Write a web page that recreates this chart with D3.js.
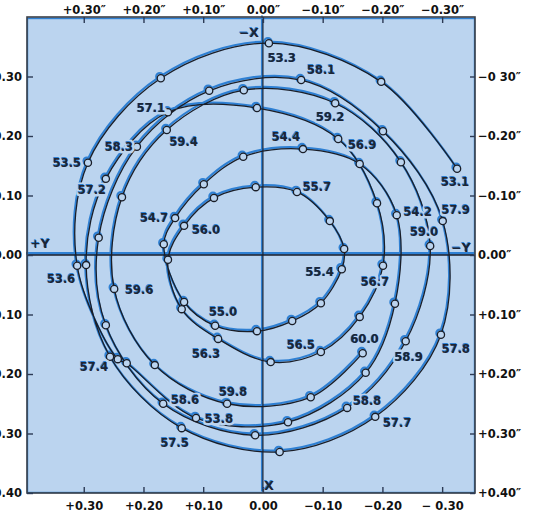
<!DOCTYPE html>
<html>
<head>
<meta charset="utf-8">
<script src="https://cdn.jsdelivr.net/npm/d3@7/dist/d3.min.js"></script>
<style>
  body { margin: 0; background: #fff; }
  svg { display: block; font-family: "DejaVu Sans", sans-serif; font-weight: bold; }
</style>
</head>
<body>
<svg id="chart" width="538" height="519"></svg>
<script>
// Path of the pole, 1953.1 - 1960.0 (seconds of arc).
// null epoch = unlabelled extra point seen on the 1953 arc.
const epochs = [
  53.1, 53.2, 53.3, 53.4, 53.5, 53.6, 53.7, null, 53.8, 53.9,
  54.0, 54.1, 54.2, 54.3, 54.4, 54.5, 54.6, 54.7, 54.8, 54.9,
  55.0, 55.1, 55.2, 55.3, 55.4, 55.5, 55.6, 55.7, 55.8, 55.9,
  56.0, 56.1, 56.2, 56.3, 56.4, 56.5, 56.6, 56.7, 56.8, 56.9,
  57.0, 57.1, 57.2, 57.3, 57.4, 57.5, 57.6, 57.7, 57.8, 57.9,
  58.0, 58.1, 58.2, 58.3, 58.4, 58.5, 58.6, 58.7, 58.8, 58.9,
  59.0, 59.1, 59.2, 59.3, 59.4, 59.5, 59.6, 59.7, 59.8, 59.9,
  60.0
];
// horizontal: pole Y (+Y to the left)
const poleY = [
  -0.325, -0.198, -0.010, 0.171, 0.293, 0.311, 0.243, 0.228, 0.112, -0.042,
  -0.172, -0.221, -0.224, -0.162, -0.067, 0.033, 0.099, 0.147, 0.166, 0.132,
  0.080, 0.010, -0.049, -0.097, -0.132, -0.136, -0.112, -0.057, 0.012, 0.082,
  0.132, 0.159, 0.136, 0.075, -0.013, -0.097, -0.162, -0.201, -0.191, -0.126,
  0.010, 0.159, 0.263, 0.296, 0.256, 0.136, -0.028, -0.188, -0.298, -0.301,
  -0.201, -0.064, 0.090, 0.211, 0.275, 0.263, 0.167, 0.013, -0.141, -0.239,
  -0.280, -0.231, -0.121, 0.032, 0.161, 0.236, 0.249, 0.181, 0.060, -0.080,
  -0.167
];
// vertical: pole X (-X at the top)
const poleX = [
  -0.145, -0.291, -0.356, -0.297, -0.155, 0.018, 0.175, 0.182, 0.274, 0.281,
  0.198, 0.082, -0.067, -0.153, -0.178, -0.165, -0.119, -0.062, -0.018, 0.079,
  0.119, 0.128, 0.111, 0.081, 0.024, -0.010, -0.057, -0.106, -0.114, -0.096,
  -0.049, 0.008, 0.091, 0.141, 0.180, 0.163, 0.104, 0.018, -0.087, -0.195,
  -0.247, -0.240, -0.128, 0.017, 0.171, 0.291, 0.331, 0.272, 0.134, -0.057,
  -0.208, -0.294, -0.276, -0.182, -0.029, 0.118, 0.250, 0.303, 0.257, 0.145,
  -0.015, -0.156, -0.255, -0.277, -0.210, -0.097, 0.057, 0.185, 0.250, 0.239,
  0.165
];
const labelled = [
  53.1, 53.3, 53.5, 53.6, 53.8, 54.2, 54.4, 54.7, 55.0, 55.4, 55.7, 56.0,
  56.3, 56.5, 56.7, 56.9, 57.1, 57.2, 57.4, 57.5, 57.7, 57.8, 57.9, 58.1,
  58.3, 58.6, 58.8, 58.9, 59.0, 59.2, 59.4, 59.6, 59.8, 60.0
];

const topTicks = [0.30, 0.20, 0.10, 0, -0.10, -0.20, -0.30];
const topTickLabels = ["+0.30″", "+0.20″", "+0.10″", "0.00″", "−0.10″", "−0.20″", "−0.30″"];
const bottomTickLabels = ["+0.30", "+0.20", "+0.10", "0.00", "−0.10", "−0.20", "− 0.30"];
const sideTicks = [-0.30, -0.20, -0.10, 0, 0.10, 0.20, 0.30, 0.40];
const rightTickLabels = ["−0 30″", "−0.20″", "−0.10″", "0.00″", "+0.10″", "+0.20″", "+0.30″", "+0.40″"];
const leftTickLabels = ["−0.30", "−0.20", "−0.10", "0.00", "+0.10", "+0.20", "+0.30", "+0.40"];

// where each epoch label sits relative to its circle (px)
const labelOffset = {
  "53.1": [-2, 13], "53.3": [13, 15], "53.5": [-21, 0], "53.6": [-16, 13],
  "53.8": [23, 1], "54.2": [21, -3], "54.4": [-17, -12], "54.7": [-21, 0],
  "55.0": [8, -14], "55.4": [-22, 3], "55.7": [20, -5], "56.0": [22, 4],
  "56.3": [-12, 15], "56.5": [-20, -7], "56.7": [-8, 16], "56.9": [24, 6],
  "57.1": [-17, -4], "57.2": [-14, 11], "57.4": [-16, 10], "57.5": [-7, 15],
  "57.7": [22, 6], "57.8": [15, 14], "57.9": [13, -11], "58.1": [20, -10],
  "58.3": [-18, 0], "58.6": [22, -4], "58.8": [20, -7], "58.9": [3, 16],
  "59.0": [-6, -14], "59.2": [-5, 14], "59.4": [17, 12], "59.6": [25, 1],
  "59.8": [6, -12], "60.0": [2, -14]
};

const frame = { left: 27, top: 17, right: 475, bottom: 493 };
const bg = "#bbd4ef";
const ink = "#1a1e28";
const cyan = "#2f80d3";

const xs = d3.scaleLinear().domain([0.395, -0.355]).range([frame.left, frame.right]);
const ys = d3.scaleLinear().domain([-0.40, 0.40]).range([frame.top, frame.bottom]);

const svg = d3.select("#chart");

svg.append("rect")
  .attr("x", frame.left).attr("y", frame.top)
  .attr("width", frame.right - frame.left).attr("height", frame.bottom - frame.top)
  .attr("fill", bg);

const pts = epochs.map((e, i) => ({ epoch: e, y: poleY[i], x: poleX[i] }));
const line = d3.line()
  .x((d) => xs(d.y))
  .y((d) => ys(d.x))
  .curve(d3.curveCatmullRom.alpha(0.5));

// printed look: a cyan plate slightly out of register under the black one
function drawLayer(g, color, width) {
  g.append("line")
    .attr("x1", frame.left).attr("x2", frame.right)
    .attr("y1", ys(0)).attr("y2", ys(0))
    .attr("stroke", color).attr("stroke-width", width + 0.4);
  g.append("line")
    .attr("x1", xs(0)).attr("x2", xs(0))
    .attr("y1", frame.top).attr("y2", frame.bottom)
    .attr("stroke", color).attr("stroke-width", width - 0.2);
  g.append("path")
    .datum(pts)
    .attr("d", line)
    .attr("fill", "none")
    .attr("stroke", color)
    .attr("stroke-width", width);
  g.selectAll("circle")
    .data(pts)
    .join("circle")
    .attr("cx", (d) => xs(d.y))
    .attr("cy", (d) => ys(d.x))
    .attr("r", 3.6)
    .attr("fill", bg)
    .attr("stroke", color)
    .attr("stroke-width", width);
}

drawLayer(svg.append("g").attr("transform", "translate(-1,-1.6)"), cyan, 2.2);
drawLayer(svg.append("g"), ink, 1.3);

// epoch labels, with a paper-coloured knock-out behind them
const lab = svg.append("g").attr("font-size", 11.5).attr("text-anchor", "middle");
const labData = pts.filter((d) => d.epoch !== null && labelled.includes(d.epoch));
lab.selectAll("text.halo")
  .data(labData)
  .join("text")
  .attr("class", "halo")
  .attr("x", (d) => xs(d.y) + labelOffset[d.epoch.toFixed(1)][0])
  .attr("y", (d) => ys(d.x) + labelOffset[d.epoch.toFixed(1)][1])
  .attr("dy", "0.36em")
  .attr("fill", "none")
  .attr("stroke", bg)
  .attr("stroke-width", 5)
  .attr("stroke-linejoin", "round")
  .text((d) => d.epoch.toFixed(1));
lab.selectAll("text.shadow")
  .data(labData)
  .join("text")
  .attr("class", "shadow")
  .attr("x", (d) => xs(d.y) + labelOffset[d.epoch.toFixed(1)][0] - 0.8)
  .attr("y", (d) => ys(d.x) + labelOffset[d.epoch.toFixed(1)][1] - 0.8)
  .attr("dy", "0.36em")
  .attr("fill", cyan)
  .text((d) => d.epoch.toFixed(1));
lab.selectAll("text.main")
  .data(labData)
  .join("text")
  .attr("class", "main")
  .attr("x", (d) => xs(d.y) + labelOffset[d.epoch.toFixed(1)][0])
  .attr("y", (d) => ys(d.x) + labelOffset[d.epoch.toFixed(1)][1])
  .attr("dy", "0.36em")
  .attr("fill", "#1d2535")
  .text((d) => d.epoch.toFixed(1));

// frame
svg.append("rect")
  .attr("x", frame.left + 0.5).attr("y", frame.top + 1.5)
  .attr("width", frame.right - frame.left - 1).attr("height", frame.bottom - frame.top - 2)
  .attr("fill", "none").attr("stroke", cyan).attr("stroke-width", 1.4);
svg.append("rect")
  .attr("x", frame.left).attr("y", frame.top)
  .attr("width", frame.right - frame.left).attr("height", frame.bottom - frame.top)
  .attr("fill", "none").attr("stroke", "#3a3f48").attr("stroke-width", 1.6);

function styleAxis(g) {
  g.select(".domain").remove();
  g.selectAll(".tick line").attr("stroke", "#2c3a55").attr("stroke-width", 1.4);
  g.selectAll(".tick text")
    .attr("fill", "#111")
    .style("font-family", "DejaVu Sans, sans-serif")
    .style("font-weight", "bold")
    .style("font-size", "11.5px");
}

svg.append("g")
  .attr("transform", `translate(0,${frame.top})`)
  .call(d3.axisTop(xs).tickValues(topTicks).tickSize(-6).tickPadding(3)
    .tickFormat((d, i) => topTickLabels[i]))
  .call(styleAxis);

svg.append("g")
  .attr("transform", `translate(0,${frame.bottom})`)
  .call(d3.axisBottom(xs).tickValues(topTicks).tickSize(-6).tickPadding(9)
    .tickFormat((d, i) => bottomTickLabels[i]))
  .call(styleAxis);

svg.append("g")
  .attr("transform", `translate(${frame.right},0)`)
  .call(d3.axisRight(ys).tickValues(sideTicks).tickSize(-5).tickPadding(3)
    .tickFormat((d, i) => rightTickLabels[i]))
  .call(styleAxis);

svg.append("g")
  .attr("transform", `translate(${frame.left},0)`)
  .call(d3.axisLeft(ys).tickValues(sideTicks).tickSize(-6).tickPadding(5)
    .tickFormat((d, i) => leftTickLabels[i]))
  .call(styleAxis);

// axis names
const names = [
  { t: "−X", x: xs(0) - 14, y: frame.top + 15 },
  { t: "X", x: xs(0) + 6, y: frame.bottom - 8 },
  { t: "+Y", x: frame.left + 13, y: ys(0) - 12 },
  { t: "−Y", x: frame.right - 14, y: ys(0) - 8 }
];
const nm = svg.append("g").attr("font-size", 12.5).attr("text-anchor", "middle");
nm.selectAll("text.s").data(names).join("text").attr("class", "s")
  .attr("x", (d) => d.x - 0.8).attr("y", (d) => d.y - 0.8).attr("dy", "0.36em")
  .attr("fill", cyan).text((d) => d.t);
nm.selectAll("text.m").data(names).join("text").attr("class", "m")
  .attr("x", (d) => d.x).attr("y", (d) => d.y).attr("dy", "0.36em")
  .attr("fill", "#1d2535").text((d) => d.t);
</script>
</body>
</html>
